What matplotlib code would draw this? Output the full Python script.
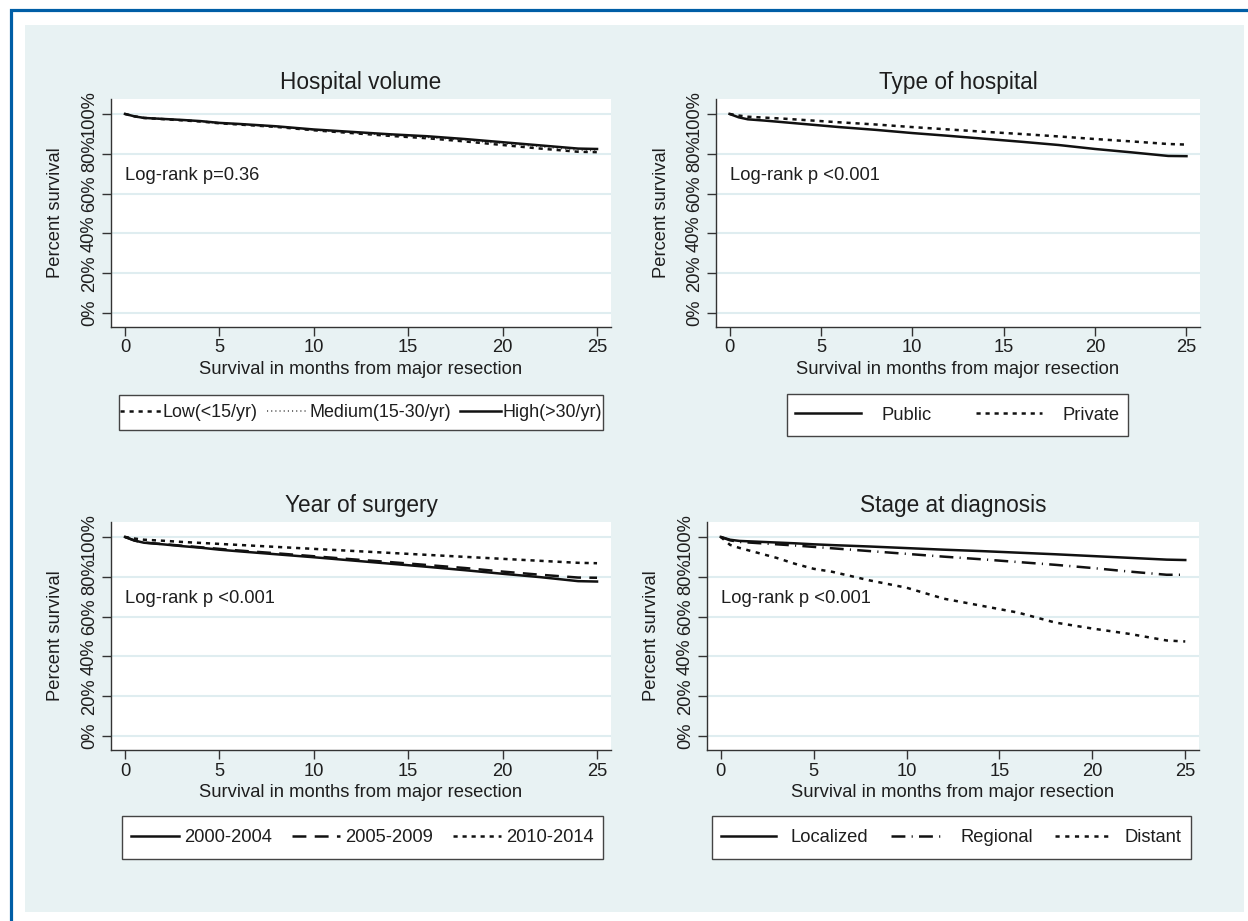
import matplotlib
matplotlib.use("Agg")
import matplotlib.pyplot as plt
from matplotlib.patches import Rectangle
from matplotlib.lines import Line2D

plt.rcParams['font.family'] = ['Liberation Sans', 'DejaVu Sans']
plt.rcParams['lines.scale_dashes'] = False

# ---------------- data ----------------
months = [0, 0.5, 1, 2, 3, 4, 5, 6, 8, 10, 12, 14, 16, 18, 20, 22, 24, 25]

vol_low = [100, 98.8, 98.0, 97.4, 96.8, 96.2, 95.3, 94.7, 93.5, 91.8, 90.4, 89.0, 87.8, 86.2, 84.4, 82.6, 81.0, 80.8]
vol_med = [100, 98.8, 98.0, 97.5, 96.9, 96.3, 95.4, 94.8, 93.6, 92.0, 90.7, 89.4, 88.3, 86.8, 85.2, 83.6, 81.8, 81.6]
vol_high = [100, 98.8, 98.0, 97.5, 97.0, 96.4, 95.5, 95.0, 93.8, 92.2, 91.0, 89.8, 88.8, 87.4, 85.8, 84.2, 82.6, 82.4]

hosp_public = [100, 98.3, 97.3, 96.6, 95.8, 95.0, 94.2, 93.4, 92.0, 90.4, 89.0, 87.5, 86.0, 84.4, 82.4, 80.7, 78.9, 78.8]
hosp_private = [100, 99.2, 98.6, 98.1, 97.6, 97.0, 96.4, 95.8, 94.7, 93.4, 92.2, 91.0, 89.9, 88.7, 87.4, 86.2, 84.9, 84.6]

yr_2000 = [100, 98.2, 97.1, 96.3, 95.4, 94.6, 93.6, 92.8, 91.3, 89.8, 88.2, 86.6, 85.0, 83.3, 81.5, 79.8, 77.8, 77.6]
yr_2005 = [100, 98.2, 97.2, 96.4, 95.6, 94.8, 94.0, 93.2, 91.8, 90.3, 88.8, 87.4, 85.9, 84.4, 82.6, 81.0, 79.6, 79.5]
yr_2010 = [100, 99.2, 98.6, 98.1, 97.5, 97.0, 96.5, 96.0, 95.0, 94.0, 93.0, 92.0, 91.0, 90.0, 89.0, 88.0, 87.0, 86.8]

st_local = [100, 98.6, 98.0, 97.6, 97.2, 96.8, 96.3, 95.9, 95.2, 94.4, 93.6, 92.9, 92.1, 91.3, 90.4, 89.5, 88.6, 88.4]
st_regional = [100, 98.3, 97.5, 96.9, 96.3, 95.7, 95.0, 94.3, 92.9, 91.5, 90.1, 88.8, 87.4, 86.0, 84.4, 82.6, 81.0, 81.0]
st_distant = [100, 96.0, 94.5, 92.0, 89.5, 86.5, 84.0, 82.5, 78.2, 74.5, 69.0, 65.5, 62.0, 57.0, 54.0, 51.3, 48.0, 47.5]

titles = ["Hospital volume", "Type of hospital", "Year of surgery", "Stage at diagnosis"]
pvals = ["Log-rank p=0.36", "Log-rank p <0.001", "Log-rank p <0.001", "Log-rank p <0.001"]
xticks = [0, 5, 10, 15, 20, 25]
yticks = [0, 20, 40, 60, 80, 100]
ytick_labels = ["0%", "20%", "40%", "60%", "80%", "100%"]
xlabel = "Survival in months from major resection"
ylabel = "Percent survival"

# ---------------- styles ----------------
W, H = 1248, 921
BG = '#E8F2F3'
GRID = '#DFEDF0'
BLUE = '#005EA6'
AXC = '#333333'
TXT = '#1E1E1E'

SOLID = '-'
SHORTDASH = (0, (3.0, 3.5))
DOTTED = (0, (0.8, 2.2))
LONGDASH = (0, (10, 6))
LONGDASH_DOT = (0, (10, 4.5, 0.8, 4.5))
SHORTDASH_DOT = (0, (3.0, 4.0))

fig = plt.figure(figsize=(W / 100, H / 100), dpi=100)
fig.patch.set_facecolor('white')
fig.add_artist(Rectangle((25 / W, 1 - 912 / H), (1244 - 25) / W, (912 - 25) / H,
                         transform=fig.transFigure, facecolor=BG, edgecolor='none', zorder=-10))
fig.add_artist(Line2D([10.5 / W, 10.5 / W, 1.0], [0.0, 1 - 10.5 / H, 1 - 10.5 / H],
                      transform=fig.transFigure, color=BLUE, lw=2.3, solid_joinstyle='miter'))

# axes boxes in pixels: left, right, top, bottom
boxes = [(111, 611, 99, 327), (716, 1200, 99, 327), (111, 611, 522, 750), (707, 1199, 522, 750)]
# legend boxes in pixels: left, right, top, bottom
leg_boxes = [(119, 603, 395, 430), (787, 1128, 394, 436), (122, 603, 816, 859), (712, 1191, 816, 859)]

FS = 13.2

def make_ax(i):
    l, r, t, b = boxes[i]
    ax = fig.add_axes([l / W, 1 - b / H, (r - l) / W, (b - t) / H])
    ax.set_facecolor('white')
    ax.set_xlim(-0.74, 25.74)
    ax.set_ylim(-7, 107.5)
    ax.set_xticks(xticks)
    ax.set_yticks(yticks)
    ax.set_yticklabels(ytick_labels, rotation=90, va='center')
    ax.yaxis.grid(True, color=GRID, lw=1.5)
    ax.set_axisbelow(True)
    for s in ['top', 'right']:
        ax.spines[s].set_visible(False)
    for s in ['left', 'bottom']:
        ax.spines[s].set_color(AXC)
        ax.spines[s].set_linewidth(1.0)
    ax.tick_params(direction='out', length=6.5, width=1.0, color=AXC,
                   labelsize=FS, labelcolor=TXT)
    ax.tick_params(axis='y', pad=3.0)
    ax.tick_params(axis='x', pad=2.5)
    ax.set_title(titles[i], fontsize=16.3, color=TXT, pad=7)
    ax.set_xlabel(xlabel, fontsize=FS, color=TXT, labelpad=3)
    ax.set_ylabel(ylabel, fontsize=FS, color=TXT)
    ax.yaxis.set_label_coords(-46.5 / (r - l), 0.5)
    ax.text(0.0, 69, pvals[i], fontsize=FS, color=TXT, va='center', ha='left')
    return ax

def add_legend(ax, i, handles, labels, handlelength, handletextpad, borderpad, fs):
    l, r, t, b = leg_boxes[i]
    fig.add_artist(Rectangle((l / W, 1 - b / H), (r - l) / W, (b - t) / H,
                             transform=fig.transFigure, facecolor='white',
                             edgecolor='#444444', lw=1.0, zorder=-5))
    leg = ax.legend(handles, labels, loc='center', mode='expand', ncol=len(labels),
                    bbox_to_anchor=(l / W, 1 - b / H, (r - l) / W, (b - t) / H),
                    bbox_transform=fig.transFigure, borderaxespad=0,
                    fontsize=fs, frameon=False, handlelength=handlelength,
                    handletextpad=handletextpad, borderpad=borderpad,
                    columnspacing=0.3)
    for txt in leg.get_texts():
        txt.set_color(TXT)
    return leg

LW = 1.8
CK = '#111111'

# Panel 1
ax = make_ax(0)
h1, = ax.plot(months, vol_low, color=CK, lw=LW, linestyle=SHORTDASH)
h2, = ax.plot(months, vol_med, color='#555555', lw=1.2, linestyle=DOTTED)
h3, = ax.plot(months, vol_high, color=CK, lw=LW, linestyle=SOLID)
add_legend(ax, 0, [h1, h2, h3], ["Low(<15/yr)", "Medium(15-30/yr)", "High(>30/yr)"],
           2.3, 0.08, 0.05, 12.9)

# Panel 2
ax = make_ax(1)
h1, = ax.plot(months, hosp_public, color=CK, lw=LW, linestyle=SOLID)
h2, = ax.plot(months, hosp_private, color=CK, lw=LW, linestyle=SHORTDASH)
add_legend(ax, 1, [h1, h2], ["Public", "Private"], 3.6, 1.1, 0.45, FS)

# Panel 3
ax = make_ax(2)
h1, = ax.plot(months, yr_2000, color=CK, lw=LW, linestyle=SOLID)
h2, = ax.plot(months, yr_2005, color=CK, lw=LW, linestyle=LONGDASH)
h3, = ax.plot(months, yr_2010, color=CK, lw=LW, linestyle=SHORTDASH)
add_legend(ax, 2, [h1, h2, h3], ["2000-2004", "2005-2009", "2010-2014"], 2.6, 0.3, 0.5, FS)

# Panel 4
ax = make_ax(3)
h1, = ax.plot(months, st_local, color=CK, lw=LW, linestyle=SOLID)
h2, = ax.plot(months, st_regional, color=CK, lw=LW, linestyle=LONGDASH_DOT)
h3, = ax.plot(months, st_distant, color=CK, lw=LW, linestyle=SHORTDASH_DOT)
add_legend(ax, 3, [h1, h2, h3], ["Localized", "Regional", "Distant"], 3.0, 0.8, 0.5, FS)

fig.savefig("out.png", dpi=100, facecolor='white')
